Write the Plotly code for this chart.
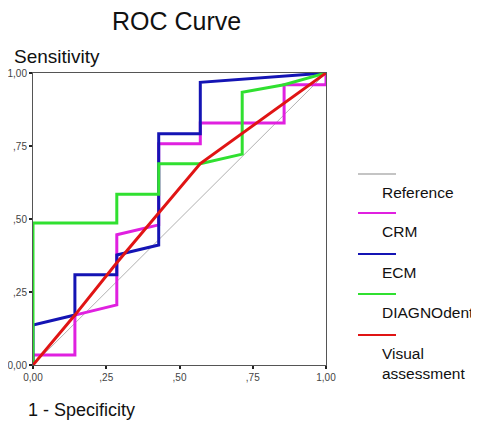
import plotly.graph_objects as go

series_names = ["Reference", "CRM", "ECM", "DIAGNOdent", "Visual<br>assessment"]
series_colors = ["#b0b0b0", "#e020e0", "#1414b4", "#30e030", "#e01414"]

ref_x = [0, 1]
ref_y = [0, 1]

crm_x = [0, 0, 0.143, 0.143, 0.286, 0.286, 0.429, 0.429, 0.571, 0.571, 0.857, 0.857, 1, 1]
crm_y = [0, 0.034, 0.034, 0.171, 0.206, 0.446, 0.48, 0.758, 0.758, 0.829, 0.829, 0.96, 0.96, 1]

ecm_x = [0, 0, 0.143, 0.143, 0.286, 0.286, 0.429, 0.429, 0.571, 0.571, 1]
ecm_y = [0, 0.137, 0.171, 0.309, 0.309, 0.377, 0.411, 0.792, 0.792, 0.968, 1]

diag_x = [0, 0, 0.286, 0.286, 0.429, 0.429, 0.571, 0.714, 0.714, 0.857, 1]
diag_y = [0, 0.486, 0.486, 0.585, 0.585, 0.689, 0.689, 0.722, 0.934, 0.96, 1]

vis_x = [0, 0.143, 0.286, 0.429, 0.571, 1]
vis_y = [0, 0.171, 0.35, 0.52, 0.69, 1]

tick_vals = [0, 0.25, 0.5, 0.75, 1]
tick_text = ["0,00", ",25", ",50", ",75", "1,00"]

xs = [ref_x, crm_x, ecm_x, diag_x, vis_x]
ys = [ref_y, crm_y, ecm_y, diag_y, vis_y]
widths = [1, 3, 3, 3, 3]

fig = go.Figure()
for name, color, x, y, w in zip(series_names, series_colors, xs, ys, widths):
    fig.add_trace(go.Scatter(x=x, y=y, mode="lines", name=name,
                             line=dict(color=color, width=w), showlegend=False))

FONT = "Liberation Sans, Arial, sans-serif"
axis_common = dict(
    range=[0, 1], tickvals=tick_vals, ticktext=tick_text, automargin=False,
    showgrid=False, zeroline=False, showline=True, linecolor="#555555",
    linewidth=1, mirror=True, ticks="outside", ticklen=3, tickwidth=2,
    tickcolor="#222222", tickfont=dict(family=FONT, size=10, color="#444444"),
    fixedrange=True,
)

# The page body has an 8px margin, so the figure is 8px smaller than the window
fig.update_layout(
    width=471, height=414,
    margin=dict(l=25, r=153, t=65, b=57),
    paper_bgcolor="white", plot_bgcolor="white",
    xaxis=dict(**axis_common),
    yaxis=dict(**axis_common),
    font=dict(family=FONT, color="#111111"),
)

# plot area in reference pixels: x 33..326, y 73..365
def px(x):
    return (x - 33) / 293

def py(y):
    return (365 - y) / 292

fig.add_annotation(text="ROC Curve", xref="paper", yref="paper",
                   x=px(176), y=py(21), xanchor="center", yanchor="middle",
                   showarrow=False, font=dict(size=25, family=FONT, color="#111111"))
fig.add_annotation(text="Sensitivity", xref="paper", yref="paper",
                   x=px(12), y=py(56), xanchor="left", yanchor="middle",
                   showarrow=False, font=dict(size=19, family=FONT, color="#111111"))
fig.add_annotation(text="1 - Specificity", xref="paper", yref="paper",
                   x=px(26), y=py(410), xanchor="left", yanchor="middle",
                   showarrow=False, font=dict(size=18, family=FONT, color="#111111"))

# Custom legend: line above, label below
line_ys = [174, 213, 254, 294, 335]
for name, color, ly in zip(series_names, series_colors, line_ys):
    fig.add_shape(type="line", xref="paper", yref="paper",
                  x0=px(358), x1=px(396), y0=py(ly), y1=py(ly),
                  line=dict(color=color, width=2 if name != "Reference" else 1.5))
    fig.add_annotation(text=name, xref="paper", yref="paper",
                       x=px(380), y=py(ly + 8),
                       xanchor="left", yanchor="top", align="left",
                       showarrow=False,
                       font=dict(size=15.5, family=FONT, color="#111111"))

fig.write_html("out.html")
